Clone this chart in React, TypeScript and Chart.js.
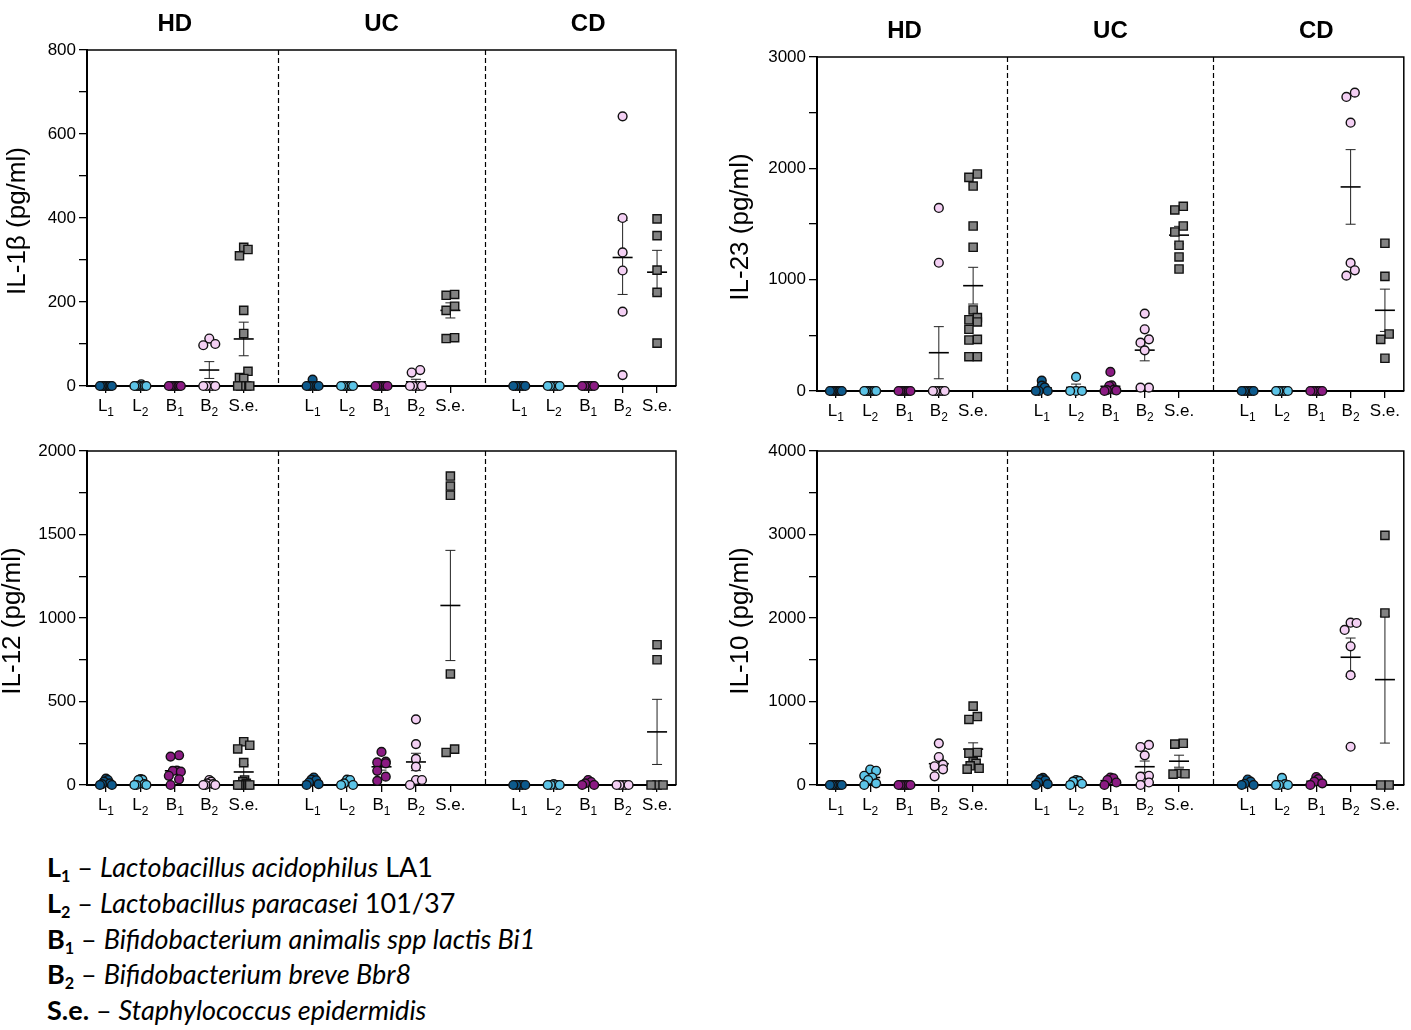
import React, { useEffect, useRef } from "react";
import { Chart, registerables } from "chart.js";

Chart.register(...registerables);

// ---------- categories ----------
const COHORTS = ["HD", "UC", "CD"];
const STRAIN_MAIN = ["L", "L", "B", "B", "S.e."];
const STRAIN_SUB = ["1", "2", "1", "2", ""];
const DIVIDERS = [6, 12];

// ---------- IL-1β (pg/ml): [L1, L2, B1, B2, S.e.] per cohort ----------
const il1bHD = [
  [0, 0, 0, 0, 0, 0, 0, 0],
  [4, 0, 0, 0, 0, 0, 0, 0],
  [0, 0, 0, 0, 0, 0, 0, 0],
  [113, 100, 97, 0, 0, 0, 0, 0],
  [330, 325, 310, 180, 125, 35, 20, 18, 0, 0, 0, 0],
];
const il1bUC = [
  [15, 0, 0, 0, 0, 0, 0],
  [0, 0, 0, 0, 0, 0, 0],
  [0, 0, 0, 0, 0, 0, 0],
  [38, 32, 0, 0, 0, 0, 0],
  [218, 216, 190, 180, 115, 113],
];
const il1bCD = [
  [0, 0, 0, 0, 0, 0],
  [0, 0, 0, 0, 0, 0],
  [0, 0, 0, 0, 0, 0],
  [642, 400, 318, 275, 177, 26],
  [398, 358, 276, 223, 102],
];
const il1bMean = [
  [0, 0.5, 0, 38, 112],
  [2, 0, 0, 10, 180],
  [0, 0, 0, 306, 271],
];
const il1bSem = [
  [0, 0.5, 0, 20, 40],
  [2, 0, 0, 6, 18],
  [0, 0, 0, 88, 52],
];

// ---------- IL-23 (pg/ml) ----------
const il23HD = [
  [0, 0, 0, 0, 0, 0, 0, 0],
  [0, 0, 0, 0, 0, 0, 0, 0],
  [0, 0, 0, 0, 0, 0, 0, 0],
  [1644, 1152, 0, 0, 0, 0, 0, 0],
  [1949, 1919, 1841, 1482, 1291, 728, 659, 640, 620, 554, 464, 458, 308, 308],
];
const il23UC = [
  [93, 48, 33, 0, 0, 0],
  [126, 0, 0, 0],
  [171, 50, 45, 12, 8, 5, 0],
  [695, 554, 464, 434, 365, 30, 30],
  [1659, 1626, 1482, 1428, 1309, 1204, 1096],
];
const il23CD = [
  [0, 0, 0, 0, 0, 0],
  [0, 0, 0, 0, 0, 0],
  [0, 0, 0, 0, 0, 0],
  [2680, 2641, 2410, 1150, 1084, 1036],
  [1327, 1030, 512, 464, 294],
];
const il23Mean = [
  [0, 0, 0, 344, 946],
  [29, 32, 42, 367, 1400],
  [0, 0, 0, 1833, 725],
];
const il23Sem = [
  [0, 0, 0, 234, 165],
  [15, 30, 22, 96, 79],
  [0, 0, 0, 335, 190],
];

// ---------- IL-12 (pg/ml) ----------
const il12HD = [
  [38, 30, 20, 10, 5, 0, 0],
  [35, 32, 30, 5, 0, 0, 0],
  [178, 170, 86, 84, 80, 55, 34, 0],
  [30, 20, 10, 5, 0, 0, 0],
  [259, 238, 216, 134, 30, 20, 10, 0, 0, 0, 0, 0],
];
const il12UC = [
  [45, 32, 28, 15, 5, 0],
  [32, 30, 10, 0, 0],
  [198, 140, 135, 130, 85, 50, 25],
  [393, 245, 156, 110, 30, 30, 0],
  [1850, 1790, 1735, 665, 215, 195],
];
const il12CD = [
  [0, 0, 0, 0, 0],
  [5, 0, 0, 0, 0],
  [30, 18, 10, 0, 0],
  [0, 0, 0, 0, 0],
  [840, 750, 0, 0, 0],
];
const il12Mean = [
  [15, 15, 85, 9, 78],
  [20, 14, 109, 138, 1075],
  [0, 1, 12, 0, 318],
];
const il12Sem = [
  [6, 7, 22, 4, 42],
  [7, 7, 20, 52, 330],
  [0, 1, 6, 0, 195],
];

// ---------- IL-10 (pg/ml) ----------
const il10HD = [
  [0, 0, 0, 0, 0, 0, 0],
  [185, 170, 110, 90, 60, 20, 0],
  [0, 0, 0, 0, 0, 0, 0],
  [499, 335, 243, 224, 188, 104],
  [945, 820, 785, 390, 380, 280, 260, 230, 200, 190],
];
const il10UC = [
  [85, 70, 55, 30, 10, 0],
  [60, 50, 40, 15, 0],
  [90, 80, 60, 30, 0],
  [480, 455, 355, 110, 100, 30, 0],
  [500, 490, 140, 135, 130],
];
const il10CD = [
  [65, 40, 15, 0, 0],
  [85, 10, 0, 0, 0],
  [95, 70, 40, 20, 0],
  [1944, 1940, 1857, 1661, 1315, 458],
  [2990, 2060, 0, 0],
];
const il10Mean = [
  [0, 90, 0, 255, 430],
  [40, 33, 52, 219, 285],
  [24, 19, 45, 1530, 1262],
];
const il10Sem = [
  [0, 27, 0, 58, 75],
  [14, 11, 17, 68, 72],
  [13, 16, 17, 230, 760],
];

// ---------- legend text ----------
const LEGEND_KEYS = ["L", "L", "B", "B", "S.e."];
const LEGEND_SUBS = ["1", "2", "1", "2", ""];
const LEGEND_ITALIC = [
  "Lactobacillus acidophilus",
  "Lactobacillus paracasei",
  "Bifidobacterium animalis spp lactis Bi1",
  "Bifidobacterium breve Bbr8",
  "Staphylococcus epidermidis",
];
const LEGEND_PLAIN = [" LA1", " 101/37", "", "", ""];

// ---------- styles ----------
const STRAIN_FILL = ["#0d5a8d", "#5cc4e7", "#8b1b83", "#f4d0f4", "#828282"];
const STRAIN_SHAPE = ["circle", "circle", "circle", "circle", "rect"];
const STRAIN_RADIUS = [4.4, 4.4, 4.4, 4.4, 5.8];
const X_MIN = 0.45;
const X_MAX = 17.55;
const FONT = "Arial, 'Liberation Sans', Helvetica, sans-serif";

const TICK_POS: number[] = [];
COHORTS.forEach((_, c) => STRAIN_MAIN.forEach((_, s) => TICK_POS.push(c * 6 + s + 1)));

type Panel = {
  yTitle: string;
  yMax: number;
  major: number;
  minor: number;
  values: number[][][];
  mean: number[][];
  sem: number[][];
  left: number;
  top: number;
  width: number;
  height: number;
  area: { l: number; t: number; r: number; b: number };
  yTitleX: number;
  showCohorts: boolean;
};

const PANELS: Panel[] = [
  {
    yTitle: "IL-1β (pg/ml)", yMax: 800, major: 200, minor: 100,
    values: [il1bHD, il1bUC, il1bCD], mean: il1bMean, sem: il1bSem,
    left: 0, top: 0, width: 700, height: 425,
    area: { l: 87, t: 50, r: 676, b: 386 }, yTitleX: 18, showCohorts: true,
  },
  {
    yTitle: "IL-23 (pg/ml)", yMax: 3000, major: 1000, minor: 500,
    values: [il23HD, il23UC, il23CD], mean: il23Mean, sem: il23Sem,
    left: 700, top: 0, width: 711, height: 425,
    area: { l: 117, t: 57, r: 708, b: 391 }, yTitleX: 41, showCohorts: true,
  },
  {
    yTitle: "IL-12 (pg/ml)", yMax: 2000, major: 500, minor: 250,
    values: [il12HD, il12UC, il12CD], mean: il12Mean, sem: il12Sem,
    left: 0, top: 425, width: 700, height: 405,
    area: { l: 87, t: 26, r: 676, b: 360 }, yTitleX: 13, showCohorts: false,
  },
  {
    yTitle: "IL-10 (pg/ml)", yMax: 4000, major: 1000, minor: 500,
    values: [il10HD, il10UC, il10CD], mean: il10Mean, sem: il10Sem,
    left: 700, top: 425, width: 711, height: 405,
    area: { l: 117, t: 26, r: 708, b: 360 }, yTitleX: 41, showCohorts: false,
  },
];

// beeswarm-like horizontal spread (in x data units) so overlapping points sit side by side
function swarm(vals: number[], pxY: number, pxX: number): number[] {
  const d = 8.5;
  const maxW = 12;
  const order = vals.map((_, i) => i).sort((a, b) => vals[a] - vals[b]);
  const dx = new Array(vals.length).fill(0);
  let row: number[] = [];
  let rowStart = -Infinity;
  const flush = () => {
    const m = row.length;
    if (!m) return;
    const sp = m > 1 ? Math.min(d, maxW / (m - 1)) : 0;
    const slots = Array.from({ length: m }, (_, j) => (j - (m - 1) / 2) * sp).sort(
      (a, b) => Math.abs(a) - Math.abs(b) || b - a
    );
    const byVal = [...row].sort((a, b) => vals[b] - vals[a]);
    byVal.forEach((i, j) => {
      dx[i] = slots[j] / pxX;
    });
  };
  for (const i of order) {
    const py = vals[i] * pxY;
    if (py - rowStart < d * 0.9) row.push(i);
    else {
      flush();
      row = [i];
      rowStart = py;
    }
  }
  flush();
  return dx;
}

function decorPlugin(p: Panel) {
  return {
    id: "decor",
    beforeDatasetsDraw(chart: any) {
      const { ctx, chartArea: a, scales } = chart;
      const x = scales.x;
      const y = scales.y;
      ctx.save();
      // top and right frame
      ctx.strokeStyle = "#000";
      ctx.lineWidth = 1.5;
      ctx.beginPath();
      ctx.moveTo(a.left, a.top);
      ctx.lineTo(a.right, a.top);
      ctx.lineTo(a.right, a.bottom);
      ctx.stroke();
      // dashed cohort dividers
      ctx.setLineDash([5, 3]);
      ctx.lineWidth = 1.2;
      for (const v of DIVIDERS) {
        const px = Math.round(x.getPixelForValue(v)) + 0.5;
        ctx.beginPath();
        ctx.moveTo(px, a.top);
        ctx.lineTo(px, a.bottom);
        ctx.stroke();
      }
      ctx.setLineDash([]);
      // mean ± SEM
      p.mean.forEach((arr, c) =>
        arr.forEach((m, s) => {
          const cx = x.getPixelForValue(c * 6 + s + 1);
          const e = p.sem[c][s];
          const my = y.getPixelForValue(m);
          const hy = y.getPixelForValue(m + e);
          const ly = y.getPixelForValue(Math.max(0, m - e));
          ctx.strokeStyle = "#222";
          ctx.lineWidth = 1;
          ctx.beginPath();
          ctx.moveTo(cx, hy);
          ctx.lineTo(cx, ly);
          ctx.moveTo(cx - 5, hy);
          ctx.lineTo(cx + 5, hy);
          ctx.moveTo(cx - 5, ly);
          ctx.lineTo(cx + 5, ly);
          ctx.stroke();
          ctx.strokeStyle = "#000";
          ctx.lineWidth = 1.6;
          ctx.beginPath();
          ctx.moveTo(cx - 10, my);
          ctx.lineTo(cx + 10, my);
          ctx.stroke();
        })
      );
      ctx.restore();
    },
    afterDraw(chart: any) {
      const { ctx, chartArea: a, scales } = chart;
      const x = scales.x;
      ctx.save();
      ctx.fillStyle = "#000";
      ctx.textBaseline = "alphabetic";
      ctx.textAlign = "left";
      // category labels with subscripts
      TICK_POS.forEach((v, k) => {
        const s = k % 5;
        const main = STRAIN_MAIN[s];
        const sub = STRAIN_SUB[s];
        ctx.font = `17px ${FONT}`;
        const w1 = ctx.measureText(main).width;
        ctx.font = `12px ${FONT}`;
        const w2 = sub ? ctx.measureText(sub).width : 0;
        const x0 = x.getPixelForValue(v) - (w1 + w2) / 2;
        const base = a.bottom + 25;
        ctx.font = `17px ${FONT}`;
        ctx.fillText(main, x0, base);
        if (sub) {
          ctx.font = `12px ${FONT}`;
          ctx.fillText(sub, x0 + w1, base + 5);
        }
      });
      // cohort titles
      if (p.showCohorts) {
        ctx.font = `bold 24px ${FONT}`;
        ctx.textAlign = "center";
        COHORTS.forEach((name, c) => {
          ctx.fillText(name, x.getPixelForValue(c * 6 + 3), a.top - 19);
        });
      }
      // y title
      ctx.font = `26px ${FONT}`;
      ctx.textAlign = "center";
      ctx.textBaseline = "middle";
      ctx.translate(p.yTitleX, (a.top + a.bottom) / 2 + 3);
      ctx.rotate(-Math.PI / 2);
      ctx.fillText(p.yTitle, 0, 0);
      ctx.restore();
    },
  };
}

function PanelChart({ p }: { p: Panel }) {
  const ref = useRef<HTMLCanvasElement>(null);
  useEffect(() => {
    const canvas = ref.current;
    if (!canvas) return;
    const { l, t, r, b } = p.area;
    const pxY = (b - t) / p.yMax;
    const pxX = (r - l) / (X_MAX - X_MIN);
    const datasets = STRAIN_MAIN.map((_, s) => {
      const pts: { x: number; y: number }[] = [];
      p.values.forEach((cohort, c) => {
        const vals = cohort[s];
        const dx = swarm(vals, pxY, pxX);
        vals.forEach((v, i) => pts.push({ x: c * 6 + s + 1 + dx[i], y: v }));
      });
      return {
        data: pts,
        pointStyle: STRAIN_SHAPE[s],
        pointRadius: STRAIN_RADIUS[s],
        backgroundColor: STRAIN_FILL[s],
        borderColor: "#111",
        borderWidth: 1.4,
        clip: false,
        showLine: false,
      };
    });
    const chart = new Chart(canvas, {
      type: "scatter",
      data: { datasets } as any,
      options: {
        responsive: false,
        animation: false,
        events: [],
        layout: { padding: { left: 0, top: t, right: p.width - r, bottom: 0 } },
        plugins: { legend: { display: false }, tooltip: { enabled: false } },
        scales: {
          x: {
            type: "linear",
            min: X_MIN,
            max: X_MAX,
            afterBuildTicks: (sc: any) => {
              sc.ticks = TICK_POS.map((v) => ({ value: v }));
            },
            afterFit: (sc: any) => {
              sc.height = p.height - b;
            },
            ticks: { autoSkip: false, callback: () => "" },
            grid: { drawOnChartArea: false, tickLength: 7, color: "#000", lineWidth: 1.3 },
            border: { color: "#000", width: 2 },
          },
          y: {
            type: "linear",
            min: 0,
            max: p.yMax,
            afterFit: (sc: any) => {
              sc.width = l;
            },
            ticks: {
              stepSize: p.minor,
              autoSkip: false,
              color: "#000",
              padding: 3,
              font: { family: FONT, size: 17 },
              callback: (v: any) => (Number(v) % p.major === 0 ? String(v) : ""),
            },
            grid: { drawOnChartArea: false, tickLength: 8, color: "#000", lineWidth: 1.3 },
            border: { color: "#000", width: 2 },
          },
        },
      } as any,
      plugins: [decorPlugin(p)],
    });
    return () => chart.destroy();
  }, [p]);
  return (
    <canvas
      ref={ref}
      width={p.width}
      height={p.height}
      style={{ position: "absolute", left: p.left, top: p.top, width: p.width, height: p.height }}
    />
  );
}

function Legend() {
  return (
    <div
      style={{
        position: "absolute",
        left: 47,
        top: 849,
        fontFamily: "Lato, 'Open Sans', sans-serif",
        fontSize: 27,
        color: "#000",
      }}
    >
      {LEGEND_KEYS.map((k, i) => (
        <div key={i} style={{ height: 35.75, lineHeight: "36px", whiteSpace: "nowrap" }}>
          <b>
            {k}
            {LEGEND_SUBS[i] ? (
              <span style={{ fontSize: "0.6em", verticalAlign: "-0.3em", lineHeight: 0 }}>{LEGEND_SUBS[i]}</span>
            ) : null}
          </b>
          {" – "}
          <i>{LEGEND_ITALIC[i]}</i>
          {LEGEND_PLAIN[i]}
        </div>
      ))}
    </div>
  );
}

export default function App() {
  return (
    <div style={{ position: "absolute", left: 0, top: 0, width: 1411, height: 1030, background: "#fff", overflow: "hidden" }}>
      {PANELS.map((p, i) => (
        <PanelChart key={i} p={p} />
      ))}
      <Legend />
    </div>
  );
}
